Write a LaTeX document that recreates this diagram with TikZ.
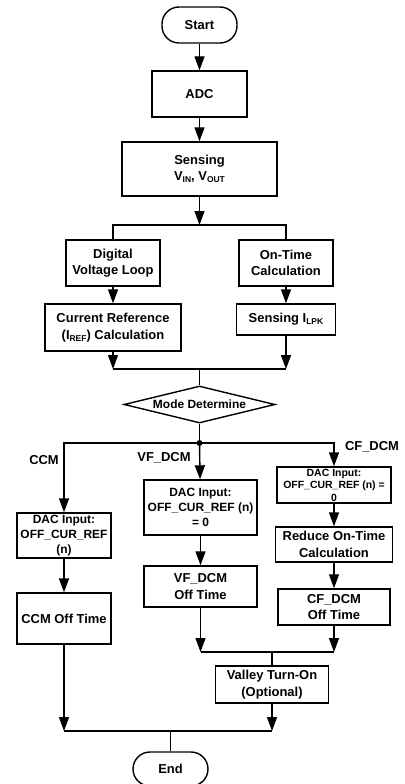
\documentclass[tikz,border=0pt]{standalone}
\usepackage{fontspec}
\setmainfont{Liberation Sans}
\usetikzlibrary{arrows.meta,shapes.geometric}
\newcommand{\sbs}[1]{\raisebox{-0.3ex}{\fontsize{8.5}{9}\selectfont #1}}
\tikzset{
  box/.style={draw,line width=1.4bp,align=center,inner sep=0pt,font=\fontsize{13}{16.5}\selectfont\bfseries},
  term/.style={box,rounded corners=17bp,minimum width=75bp,minimum height=36bp},
  lbl/.style={font=\fontsize{13}{15}\selectfont\bfseries,inner sep=0pt},
  flow/.style={line width=1.4bp,-{Triangle[length=14bp,width=10bp]}},
  wire/.style={line width=1.4bp}
}
\begin{document}
\begin{tikzpicture}[x=1bp,y=-1bp,line join=miter]
  \useasboundingbox (0,0) rectangle (404,784);
  % top part
  \node[term] (start) at (199.5,25) {Start};
  \node[box,minimum width=95bp,minimum height=46bp] (adc) at (199.5,94) {ADC};
  \node[box,minimum width=155bp,minimum height=54bp] (sens) at (199.5,169) {Sensing\\V\sbs{IN}, V\sbs{OUT}};
  \node[box,minimum width=94bp,minimum height=46bp] (dvl) at (113,263) {Digital\\Voltage Loop};
  \node[box,minimum width=94bp,minimum height=46bp] (otc) at (286,263) {On-Time\\Calculation};
  \node[box,minimum width=136bp,minimum height=47bp] (cref) at (113,327.5) {Current Reference\\(I\sbs{REF}) Calculation};
  \node[box,minimum width=99bp,minimum height=31bp] (ilpk) at (286,319.5) {Sensing I\sbs{LPK}};
  \node[draw,diamond,line width=1.4bp,inner sep=0pt,aspect=4,minimum width=151bp,minimum height=37bp,
        font=\fontsize{12}{14}\selectfont\bfseries] (mode) at (199.5,404.5) {Mode Determine};
  % three branches
  \node[box,minimum width=94bp,minimum height=45bp,font=\fontsize{12}{15}\selectfont\bfseries] (dacA) at (64,535.5) {DAC Input:\\OFF\_CUR\_REF\\(n)};
  \node[box,minimum width=113bp,minimum height=55bp,font=\fontsize{12}{15}\selectfont\bfseries] (dacB) at (200.5,507.5) {DAC Input:\\OFF\_CUR\_REF (n)\\= 0};
  \node[box,minimum width=114bp,minimum height=36bp,font=\fontsize{10.5}{12.5}\selectfont\bfseries] (dacC) at (334,485) {DAC Input:\\OFF\_CUR\_REF (n) =\\0};
  \node[box,minimum width=117bp,minimum height=35bp] (red) at (334,544.5) {Reduce On-Time\\Calculation};
  \node[box,minimum width=112bp,minimum height=36bp] (cfoff) at (334,607) {CF\_DCM\\Off Time};
  \node[box,minimum width=113bp,minimum height=41bp] (vfoff) at (200.5,586.5) {VF\_DCM\\Off Time};
  \node[box,minimum width=94bp,minimum height=51bp] (ccmoff) at (64,618.5) {CCM Off Time};
  \node[box,minimum width=113bp,minimum height=37bp] (valley) at (272,684.5) {Valley Turn-On\\(Optional)};
  \node[term,minimum height=34bp] (end) at (170.5,769) {End};
  \node[lbl] (lccm) at (44,460) {CCM};
  \node[lbl] (lvf) at (164,458) {VF\_DCM};
  \node[lbl] (lcf) at (372,447) {CF\_DCM};
  % junctions
  \coordinate (j1) at (199.5,225);
  \coordinate (j2) at (199.5,369);
  \coordinate (j3) at (199.5,443);
  \coordinate (j4) at (272,652);
  \coordinate (j5) at (170.5,731);
  % connectors
  \draw[flow] (start) -- (adc);
  \draw[flow] (adc) -- (sens);
  \draw[flow] (sens) -- (j1);
  \draw[wire] (dvl.north) |- (j1) -| (otc.north);
  \draw[flow] (dvl) -- (cref);
  \draw[flow] (otc) -- (ilpk);
  \draw[flow] (cref.south) -- (cref.south |- j2);
  \draw[flow] (ilpk.south) -- (ilpk.south |- j2);
  \draw[wire] (cref.south |- j2) -- (ilpk.south |- j2);
  \draw[wire] (j2) -- (mode.north);
  \draw[wire] (mode.south) -- (j3);
  \draw[flow] (j3) -- (dacB);
  \draw[flow] (j3) -| (dacA.north);
  \draw[flow] (j3) -| (dacC.north);
  \fill (j3) circle (3bp);
  \draw[flow] (dacA) -- (ccmoff);
  \draw[flow] (dacB) -- (vfoff);
  \draw[flow] (dacC) -- (red);
  \draw[flow] (red) -- (cfoff);
  \draw[flow] (vfoff.south) -- (vfoff.south |- j4);
  \draw[flow] (cfoff.south) -- (cfoff.south |- j4);
  \draw[wire] (vfoff.south |- j4) -- (cfoff.south |- j4);
  \draw[wire] (j4) -- (valley.north);
  \draw[flow] (ccmoff.south) -- (ccmoff.south |- j5);
  \draw[flow] (valley.south) -- (valley.south |- j5);
  \draw[wire] (ccmoff.south |- j5) -- (valley.south |- j5);
  \draw[wire] (j5) -- (end.north);
\end{tikzpicture}
\end{document}
